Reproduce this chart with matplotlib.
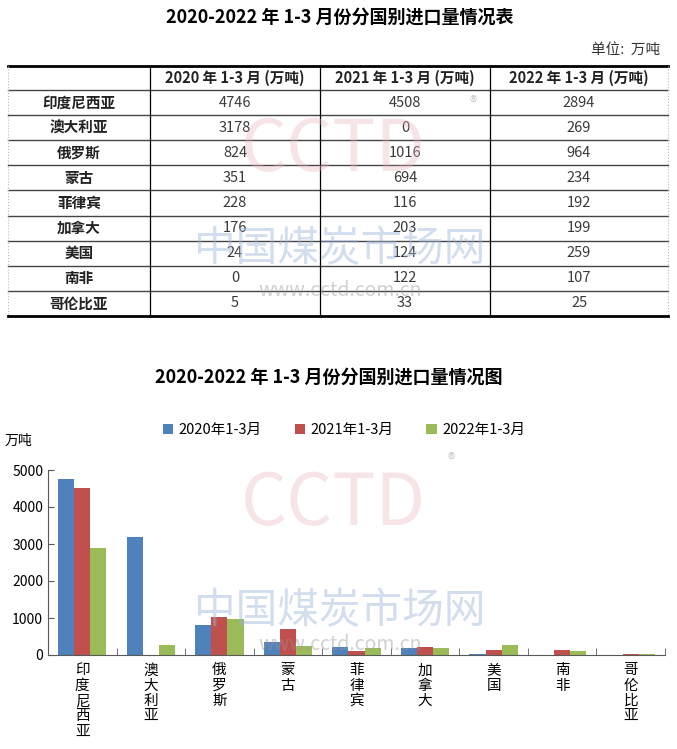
import matplotlib
matplotlib.use('Agg')
import matplotlib.pyplot as plt
import numpy as np

plt.rcParams['font.family'] = ['Noto Sans CJK SC', 'DejaVu Sans']

# data
countries = ['印度尼西亚', '澳大利亚', '俄罗斯', '蒙古', '菲律宾', '加拿大', '美国', '南非', '哥伦比亚']
v2020 = [4746, 3178, 824, 351, 228, 176, 24, 0, 5]
v2021 = [4508, 0, 1016, 694, 116, 203, 124, 122, 33]
v2022 = [2894, 269, 964, 234, 192, 199, 259, 107, 25]
table_header = ['', '2020 年 1-3 月 (万吨)', '2021 年 1-3 月 (万吨)', '2022 年 1-3 月 (万吨)']
series_names = ['2020年1-3月', '2021年1-3月', '2022年1-3月']
colors = ['#4f81bd', '#c0504d', '#9bbb59']
yticks = [0, 1000, 2000, 3000, 4000, 5000]

table_title = '2020-2022 年 1-3 月份分国别进口量情况表'
chart_title = '2020-2022 年 1-3 月份分国别进口量情况图'

W, H = 677, 749
fig = plt.figure(figsize=(W / 100, H / 100), dpi=100)

# background axes in pixel coordinates for the table
bg = fig.add_axes([0, 0, 1, 1])
bg.set_xlim(0, W)
bg.set_ylim(H, 0)
bg.axis('off')

bg.text(340, 17, table_title, ha='center', va='center', fontsize=13, fontweight='bold')
bg.text(660, 50, '单位:  万吨', ha='right', va='center', fontsize=10.5, color='#333333')

col_x = [8, 150, 320, 490, 668]
top, head_bot, bot = 66, 90, 316
row_y = np.linspace(head_bot, bot, len(countries) + 1)

bg.plot([col_x[0], col_x[-1]], [top, top], color='black', lw=2)
bg.plot([col_x[0], col_x[-1]], [bot, bot], color='black', lw=2)
for y in row_y[:-1]:
    bg.plot([col_x[0], col_x[-1]], [y, y], color='#444444', lw=1)
for x in col_x[1:-1]:
    bg.plot([x, x], [top, bot], color='black', lw=0.9)
for x in (col_x[0], col_x[-1]):
    bg.plot([x, x], [top, bot], color='#bbbbbb', lw=0.8, ls=':')

for j, txt in enumerate(table_header):
    cx = (col_x[j] + col_x[j + 1]) / 2
    bg.text(cx, (top + head_bot) / 2, txt, ha='center', va='center',
            fontsize=10.5, fontweight='bold', color='#222222')

for i, name in enumerate(countries):
    cy = (row_y[i] + row_y[i + 1]) / 2
    bg.text((col_x[0] + col_x[1]) / 2, cy, name, ha='center', va='center',
            fontsize=10.5, fontweight='bold', color='#222222')
    for j, vals in enumerate([v2020, v2021, v2022]):
        cx = (col_x[j + 1] + col_x[j + 2]) / 2
        bg.text(cx, cy, str(vals[i]), ha='center', va='center',
                fontsize=10.5, color='#3a3a3a')

bg.text(329, 377, chart_title, ha='center', va='center', fontsize=13, fontweight='bold')
bg.text(5, 441, '万吨', ha='left', va='center', fontsize=10)

# bar chart
ax = fig.add_axes([48 / W, 1 - 655 / H, 617 / W, 185 / H])
ax.set_facecolor('none')
x = np.arange(len(countries))
bw = 0.235
for k, vals in enumerate([v2020, v2021, v2022]):
    ax.bar(x + (k - 1) * bw, vals, width=bw, color=colors[k], label=series_names[k])

ax.set_xlim(-0.5, len(countries) - 0.5)
ax.set_ylim(0, 5000)
ax.set_yticks(yticks)
ax.tick_params(axis='y', direction='in', length=4, labelsize=10, color='#595959')
ax.set_xticks(x)
ax.set_xticklabels(['\n'.join(c) for c in countries], fontsize=10.5, linespacing=1.12, va='top')
ax.tick_params(axis='x', length=0, pad=6)
ax.set_xticks(np.arange(len(countries) + 1) - 0.5, minor=True)
ax.tick_params(axis='x', which='minor', direction='in', length=5, color='#595959')
for s in ('top', 'right'):
    ax.spines[s].set_visible(False)
for s in ('left', 'bottom'):
    ax.spines[s].set_color('#595959')

fig.legend(loc='center', bbox_to_anchor=(344 / W, 1 - 430 / H), ncol=3, frameon=False,
           fontsize=10.5, handlelength=0.7, handleheight=0.7, handletextpad=0.4,
           columnspacing=2.25)

# faint site watermark
for cy, big_y, url_y, reg in [(150, 250, 290, (473, 103)), (505, 612, 645, (451, 460))]:
    fig.text(333 / W, 1 - cy / H, 'CCTD', ha='center', va='center', fontsize=52,
             color='#e8b4bc', alpha=0.35, zorder=5)
    fig.text(340 / W, 1 - big_y / H, '中国煤炭市场网', ha='center', va='center', fontsize=30,
             color='#9db6d8', alpha=0.45, zorder=5)
    fig.text(340 / W, 1 - url_y / H, 'www.cctd.com.cn', ha='center', va='center', fontsize=14,
             color='#999999', alpha=0.45, zorder=5)
    fig.text(reg[0] / W, 1 - reg[1] / H, '®', ha='center', va='center', fontsize=11,
             color='#999999', alpha=0.5, zorder=5)

fig.savefig('out.png', dpi=100, facecolor='white')
